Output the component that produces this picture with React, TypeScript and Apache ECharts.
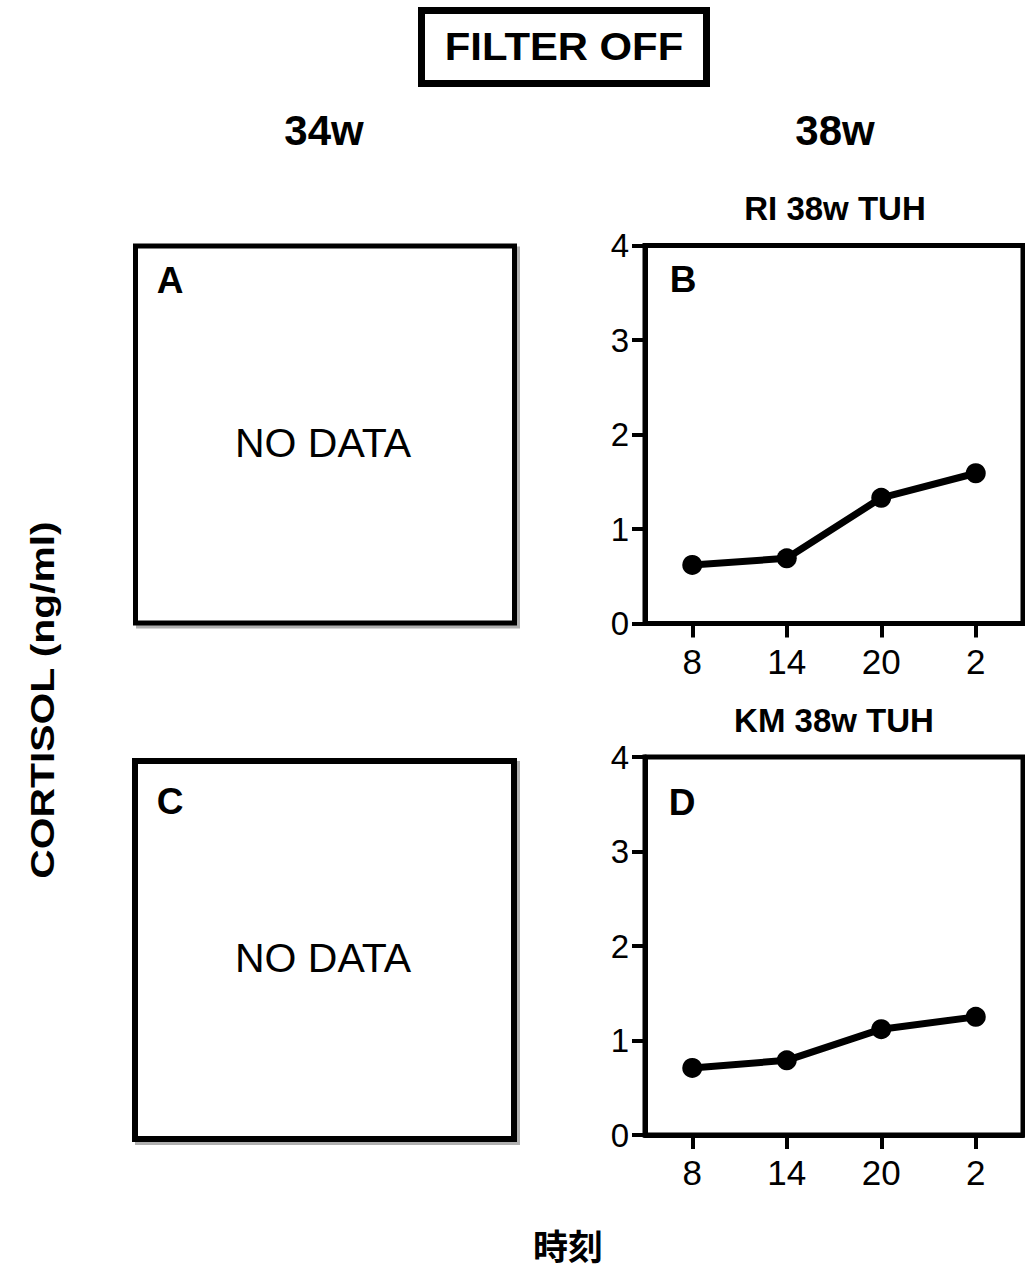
import React, { useEffect, useRef } from "react";
import * as echarts from "echarts";

const categories = ["8", "14", "20", "2"];
const seriesB = [0.62, 0.69, 1.33, 1.59];
const seriesD = [0.71, 0.79, 1.12, 1.25];
const yTicks = [0, 1, 2, 3, 4];
const titleB = "RI 38w TUH";
const titleD = "KM 38w TUH";

const FONT = "'Liberation Sans', Arial, Helvetica, sans-serif";

function txt(text: string, x: number, y: number, size: number, bold: boolean, extra: any = {}) {
  const { fontFamily, ...rest } = extra;
  return {
    type: "text",
    x,
    y,
    z: 10,
    ...rest,
    style: {
      text,
      fill: "#000",
      fontSize: size,
      fontWeight: bold ? "bold" : "normal",
      fontFamily: fontFamily || FONT,
      align: "center",
      verticalAlign: "middle",
      textAlign: "center",
      textVerticalAlign: "middle",
    },
  };
}

function box(x: number, y: number, w: number, h: number, lw: number, shadow: boolean) {
  const els: any[] = [];
  if (shadow) {
    els.push({
      type: "rect",
      z: 1,
      shape: { x: x + 3, y: y + 3, width: w, height: h },
      style: { fill: "none", stroke: "#b0b0b0", lineWidth: lw },
    });
  }
  els.push({
    type: "rect",
    z: 2,
    shape: { x, y, width: w, height: h },
    style: { fill: shadow ? "#fff" : "none", stroke: "#000", lineWidth: lw },
  });
  return els;
}

export default function App() {
  const ref = useRef<HTMLDivElement>(null);
  useEffect(() => {
    if (!ref.current) return;
    const chart = echarts.init(ref.current, undefined, { renderer: "svg" });
    const grids = [
      { left: 645, top: 245.5, width: 378, height: 378 },
      { left: 645, top: 757, width: 378, height: 378 },
    ];
    const xAxisCfg = (gi: number) => ({
      type: "category",
      gridIndex: gi,
      data: categories,
      boundaryGap: true,
      axisLine: { show: true, lineStyle: { color: "#000", width: 5 } },
      axisTick: { show: true, alignWithLabel: true, length: 14, lineStyle: { color: "#000", width: 4 } },
      axisLabel: { margin: 20, fontSize: 35, color: "#000", fontFamily: FONT },
      splitLine: { show: false },
    });
    const yAxisCfg = (gi: number) => ({
      type: "value",
      gridIndex: gi,
      min: yTicks[0],
      max: yTicks[yTicks.length - 1],
      interval: 1,
      axisLine: { show: true, lineStyle: { color: "#000", width: 5 } },
      axisTick: { show: true, length: 13, lineStyle: { color: "#000", width: 4 } },
      axisLabel: { margin: 16, fontSize: 33, color: "#000", fontFamily: FONT },
      splitLine: { show: false },
    });
    const lineSeries = (gi: number, data: number[]) => ({
      type: "line",
      xAxisIndex: gi,
      yAxisIndex: gi,
      data,
      symbol: "circle",
      symbolSize: 20,
      showSymbol: true,
      lineStyle: { color: "#000", width: 7 },
      itemStyle: { color: "#000" },
      z: 5,
    });

    const graphic: any[] = [
      ...box(421.5, 10.5, 285, 73, 7, false),
      txt("FILTER OFF", 564, 47, 38, true, { scaleX: 1.1 }),
      txt("34w", 324, 130, 42, true),
      txt("38w", 835, 130, 42, true),
      txt(titleB, 835, 208, 33, true),
      txt(titleD, 834, 720, 33, true),
      ...box(135.5, 246, 379, 377, 5, true),
      ...box(135, 761, 379, 378, 6, true),
      txt("A", 170, 280, 37, true),
      txt("C", 170, 801, 37, true),
      txt("B", 683, 279, 37, true),
      txt("D", 682, 802, 37, true),
      txt("NO DATA", 323, 443, 41, false),
      txt("NO DATA", 323, 958, 41, false),
      txt("CORTISOL (ng/ml)", 42, 700, 34, true, { rotation: Math.PI / 2, scaleX: 1.2 }),
      txt("時刻", 568, 1244, 35, true, { fontFamily: "'Noto Sans CJK JP', 'Noto Sans CJK SC', sans-serif" }),
    ];

    chart.setOption({
      animation: false,
      backgroundColor: "#fff",
      grid: grids.map((g) => ({ ...g, show: true, borderColor: "#000", borderWidth: 5, backgroundColor: "transparent" })),
      xAxis: [xAxisCfg(0), xAxisCfg(1)],
      yAxis: [yAxisCfg(0), yAxisCfg(1)],
      series: [lineSeries(0, seriesB), lineSeries(1, seriesD)],
      graphic,
    });
    return () => chart.dispose();
  }, []);
  return (
    <div
      ref={ref}
      style={{ position: "absolute", left: 0, top: 0, width: 1025, height: 1274, background: "#fff" }}
    />
  );
}
